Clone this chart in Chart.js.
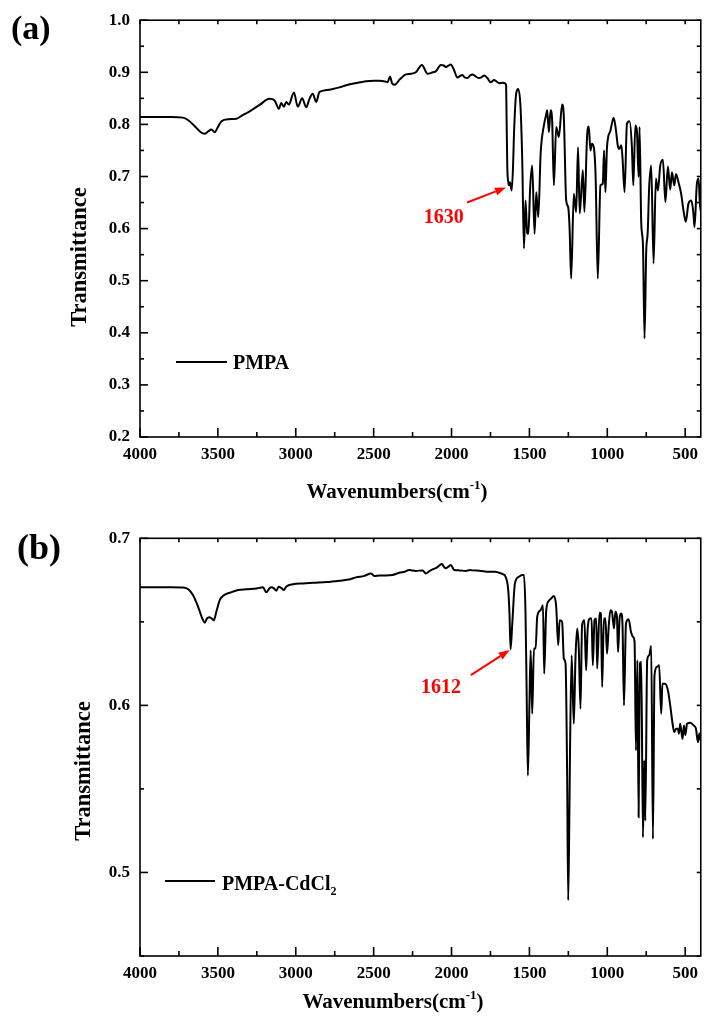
<!DOCTYPE html>
<html>
<head>
<meta charset="utf-8">
<script src="https://cdn.jsdelivr.net/npm/chart.js@4.4.1/dist/chart.umd.min.js"></script>
<style>
  html, body { margin: 0; padding: 0; background: #fff; }
  #wrap { position: relative; width: 705px; height: 1021px; }
  .panel { position: absolute; left: 0; width: 705px; }
  #pa { top: 0; height: 510px; }
  #pb { top: 510px; height: 511px; }
</style>
</head>
<body>
<div id="wrap">
  <div class="panel" id="pa"><canvas id="chartA"></canvas></div>
  <div class="panel" id="pb"><canvas id="chartB"></canvas></div>
</div>
<script>
const SERIF = "'Liberation Serif', 'Times New Roman', serif";

// axis ticks
const xTickLabels = [4000, 3500, 3000, 2500, 2000, 1500, 1000, 500];
const yTicksA = [0.2, 0.3, 0.4, 0.5, 0.6, 0.7, 0.8, 0.9, 1.0];
const yTicksB = [0.5, 0.6, 0.7];

// (a) PMPA
const wnA = [4000, 3800, 3725, 3690, 3650, 3610, 3584, 3560, 3541, 3520, 3500, 3477, 3430, 3381, 3340, 3296,
  3230, 3168, 3136, 3108, 3094, 3076, 3061, 3045, 3012, 2987, 2959, 2933, 2912, 2891, 2869, 2848,
  2800, 2762, 2720, 2677, 2620, 2549, 2500, 2464, 2420, 2410, 2395, 2382, 2367, 2330, 2293, 2260,
  2229, 2190, 2154, 2120, 2100, 2069, 2050, 2037, 2005, 1985, 1962, 1945, 1930, 1915, 1898, 1880,
  1866, 1845, 1823, 1805, 1791, 1770, 1749, 1727, 1710, 1695, 1670, 1657, 1650, 1646, 1642, 1636,
  1631, 1625, 1618, 1614, 1605, 1599, 1585, 1572, 1557, 1546, 1535, 1525, 1514, 1507, 1495, 1482,
  1467, 1456, 1443, 1428, 1407, 1395, 1386, 1375, 1364, 1354, 1343, 1328, 1311, 1290, 1279, 1264,
  1251, 1242, 1232, 1215, 1200, 1188, 1177, 1157, 1147, 1130, 1119, 1108, 1098, 1085, 1075, 1061,
  1044, 1029, 1021, 1012, 1002, 980, 959, 944, 933, 923, 910, 902, 889, 874, 857, 842,
  833, 820, 810, 799, 793, 782, 771, 761, 750, 741, 731, 718, 703, 688, 675, 660,
  643, 627, 611, 596, 585, 570, 559, 543, 526, 511, 496, 479, 461, 448, 440, 425,
  414, 403, 400];
const trA = [0.814, 0.814, 0.813, 0.808, 0.797, 0.785, 0.782, 0.787, 0.790, 0.785, 0.795, 0.806, 0.810, 0.811, 0.818, 0.825,
  0.838, 0.849, 0.846, 0.830, 0.841, 0.834, 0.843, 0.838, 0.861, 0.834, 0.850, 0.833, 0.849, 0.859, 0.843, 0.862,
  0.866, 0.868, 0.871, 0.875, 0.879, 0.883, 0.884, 0.884, 0.882, 0.881, 0.892, 0.879, 0.876, 0.887, 0.896, 0.897,
  0.900, 0.914, 0.897, 0.900, 0.902, 0.914, 0.913, 0.910, 0.915, 0.905, 0.890, 0.893, 0.895, 0.890, 0.889, 0.894,
  0.896, 0.892, 0.889, 0.891, 0.894, 0.889, 0.881, 0.885, 0.882, 0.879, 0.880, 0.879, 0.876, 0.800, 0.718, 0.690,
  0.683, 0.689, 0.678, 0.673, 0.720, 0.782, 0.859, 0.868, 0.833, 0.731, 0.562, 0.654, 0.591, 0.590, 0.680, 0.721,
  0.590, 0.670, 0.622, 0.744, 0.798, 0.815, 0.827, 0.785, 0.827, 0.807, 0.683, 0.795, 0.776, 0.838, 0.814, 0.654,
  0.641, 0.600, 0.504, 0.667, 0.632, 0.756, 0.629, 0.712, 0.632, 0.776, 0.796, 0.750, 0.763, 0.753, 0.700, 0.504,
  0.683, 0.686, 0.750, 0.670, 0.756, 0.788, 0.813, 0.788, 0.760, 0.753, 0.760, 0.734, 0.670, 0.801, 0.806, 0.756,
  0.683, 0.798, 0.788, 0.699, 0.795, 0.610, 0.568, 0.389, 0.558, 0.590, 0.680, 0.721, 0.533, 0.696, 0.673, 0.721,
  0.732, 0.651, 0.719, 0.675, 0.708, 0.683, 0.705, 0.689, 0.667, 0.635, 0.613, 0.648, 0.654, 0.632, 0.603, 0.686,
  0.696, 0.635, 0.640];

// (b) PMPA-CdCl2
const wnB = [4000, 3800, 3723, 3690, 3660, 3627, 3600, 3584, 3570, 3556, 3540, 3526, 3510, 3488, 3460, 3424,
  3370, 3317, 3250, 3211, 3189, 3170, 3157, 3140, 3125, 3110, 3090, 3078, 3060, 3018, 2950, 2891,
  2800, 2720, 2650, 2613, 2560, 2517, 2496, 2460, 2421, 2380, 2336, 2300, 2272, 2230, 2186, 2165,
  2140, 2122, 2095, 2062, 2045, 2037, 2020, 2005, 1983, 1950, 1909, 1880, 1866, 1820, 1759, 1720,
  1695, 1670, 1653, 1636, 1628, 1621, 1610, 1593, 1567, 1545, 1535, 1525, 1518, 1510, 1500, 1492,
  1482, 1471, 1460, 1450, 1428, 1413, 1405, 1392, 1375, 1360, 1343, 1328, 1315, 1306, 1290, 1279,
  1268, 1258, 1251, 1244, 1240, 1229, 1215, 1204, 1193, 1183, 1172, 1162, 1147, 1136, 1127, 1112,
  1101, 1093, 1082, 1071, 1065, 1050, 1041, 1033, 1022, 1012, 1002, 991, 980, 970, 957, 948,
  938, 931, 920, 910, 902, 893, 880, 863, 848, 835, 825, 816, 807, 799, 791, 782,
  771, 763, 756, 744, 731, 718, 707, 697, 682, 667, 654, 646, 629, 611, 596, 581,
  570, 558, 547, 540, 532, 517, 508, 499, 488, 467, 446, 431, 418, 409, 400];
const trB = [0.6707, 0.6707, 0.6705, 0.6695, 0.666, 0.659, 0.652, 0.6495, 0.652, 0.6527, 0.652, 0.651, 0.656, 0.663, 0.666, 0.6674,
  0.669, 0.6695, 0.670, 0.6707, 0.6677, 0.6700, 0.6707, 0.6700, 0.6686, 0.6710, 0.6700, 0.6690, 0.6712, 0.6725, 0.6730, 0.6734,
  0.6738, 0.6746, 0.6755, 0.6766, 0.6775, 0.6790, 0.6774, 0.6778, 0.6778, 0.6780, 0.6794, 0.6800, 0.6810, 0.6805, 0.6808, 0.6790,
  0.6805, 0.6814, 0.6825, 0.6846, 0.6825, 0.6820, 0.6830, 0.6840, 0.6810, 0.6808, 0.6805, 0.6810, 0.6808, 0.6806, 0.6800, 0.6800,
  0.6794, 0.6785, 0.677, 0.669, 0.655, 0.6335, 0.649, 0.673, 0.677, 0.678, 0.678, 0.655, 0.610, 0.558, 0.600, 0.633,
  0.595, 0.634, 0.634, 0.653, 0.657, 0.660, 0.619, 0.657, 0.6626, 0.664, 0.6655, 0.659, 0.636, 0.651, 0.650, 0.628,
  0.625, 0.560, 0.4834, 0.530, 0.567, 0.630, 0.589, 0.629, 0.646, 0.634, 0.598, 0.648, 0.651, 0.621, 0.644, 0.652,
  0.652, 0.624, 0.651, 0.652, 0.622, 0.6555, 0.655, 0.611, 0.652, 0.652, 0.631, 0.647, 0.657, 0.656, 0.646, 0.656,
  0.653, 0.632, 0.653, 0.655, 0.647, 0.600, 0.649, 0.6515, 0.644, 0.641, 0.638, 0.573, 0.627, 0.533, 0.625, 0.626,
  0.521, 0.567, 0.531, 0.627, 0.630, 0.6355, 0.520, 0.618, 0.623, 0.624, 0.595, 0.613, 0.613, 0.609, 0.600, 0.589,
  0.584, 0.586, 0.586, 0.583, 0.589, 0.580, 0.588, 0.5822, 0.589, 0.5896, 0.588, 0.586, 0.578, 0.5832, 0.579];

function richText(ctx, parts, x, y, align) {
  let total = 0;
  parts.forEach(p => {
    ctx.font = `bold ${p.size}px ${SERIF}`;
    p.w = ctx.measureText(p.t).width;
    total += p.w;
  });
  let cx = align === 'center' ? x - total / 2 : x;
  ctx.textAlign = 'left';
  ctx.textBaseline = 'alphabetic';
  parts.forEach(p => {
    ctx.font = `bold ${p.size}px ${SERIF}`;
    ctx.fillText(p.t, cx, y + (p.dy || 0));
    cx += p.w;
  });
}

function seg(ctx, x1, y1, x2, y2) {
  ctx.beginPath(); ctx.moveTo(x1, y1); ctx.lineTo(x2, y2); ctx.stroke();
}

const panelDecor = {
  id: 'panelDecor',
  afterDraw(chart, args, o) {
    const { ctx, chartArea: a, scales: { x, y } } = chart;
    ctx.save();
    ctx.strokeStyle = '#000';
    ctx.fillStyle = '#000';
    ctx.lineWidth = 1.6;
    ctx.strokeRect(a.left, a.top, a.right - a.left, a.bottom - a.top);

    // inward ticks, major + minor, mirrored on top/right
    for (let v = 500; v <= 4000; v += 250) {
      const px = x.getPixelForValue(v);
      const major = v % 500 === 0;
      seg(ctx, px, a.bottom, px, a.bottom - (major ? 9 : 5));
      seg(ctx, px, a.top, px, a.top + 4);
    }
    for (let i = 0; ; i++) {
      const v = o.yMin + i * 0.05;
      if (v > o.yMax + 1e-9) break;
      const py = y.getPixelForValue(v);
      const major = Math.abs(v * 10 - Math.round(v * 10)) < 1e-6;
      seg(ctx, a.left, py, a.left + (major ? 8 : 4), py);
      seg(ctx, a.right, py, a.right - 4, py);
    }

    // axis titles
    ctx.save();
    ctx.translate(o.yTitle[0], o.yTitle[1]);
    ctx.rotate(-Math.PI / 2);
    ctx.font = `bold 22.5px ${SERIF}`;
    ctx.textAlign = 'center';
    ctx.textBaseline = 'alphabetic';
    ctx.fillText('Transmittance', 0, 0);
    ctx.restore();
    richText(ctx, [
      { t: 'Wavenumbers(cm', size: 21 },
      { t: '-1', size: 13, dy: -9 },
      { t: ')', size: 21 }
    ], o.xTitle[0], o.xTitle[1], 'center');

    // panel letter
    ctx.font = `bold ${o.letterSize}px ${SERIF}`;
    ctx.textAlign = 'left';
    ctx.fillText(o.letter, o.letterPos[0], o.letterPos[1]);

    // legend
    ctx.lineWidth = 2;
    seg(ctx, o.legendLine[0], o.legendLine[2], o.legendLine[1], o.legendLine[2]);
    richText(ctx, o.legendParts, o.legendText[0], o.legendText[1], 'left');

    // red arrow annotation
    ctx.strokeStyle = '#ff0000';
    ctx.fillStyle = '#ff0000';
    const tx = x.getPixelForValue(o.note.tail[0]), ty = y.getPixelForValue(o.note.tail[1]);
    const hx = x.getPixelForValue(o.note.head[0]), hy = y.getPixelForValue(o.note.head[1]);
    const ang = Math.atan2(hy - ty, hx - tx);
    const hl = 11, hw = 4;
    const bx = hx - hl * Math.cos(ang), by = hy - hl * Math.sin(ang);
    ctx.lineWidth = 2;
    seg(ctx, tx, ty, bx, by);
    ctx.beginPath();
    ctx.moveTo(hx, hy);
    ctx.lineTo(bx + hw * Math.sin(ang), by - hw * Math.cos(ang));
    ctx.lineTo(bx - hw * Math.sin(ang), by + hw * Math.cos(ang));
    ctx.closePath();
    ctx.fill();
    ctx.font = `bold 20px ${SERIF}`;
    ctx.textAlign = 'center';
    ctx.textBaseline = 'alphabetic';
    ctx.fillText(o.note.text, x.getPixelForValue(o.note.at[0]), y.getPixelForValue(o.note.at[1]));
    ctx.restore();
  }
};

function makePanel(id, wn, tr, yMin, yMax, yTicks, xAxisH, pad, deco) {
  const tickFont = { family: SERIF, size: 17, weight: 'bold' };
  return new Chart(document.getElementById(id), {
    type: 'line',
    data: {
      datasets: [{
        data: wn.map((w, i) => ({ x: w, y: tr[i] })),
        borderColor: '#000',
        borderWidth: 2,
        pointRadius: 0,
        cubicInterpolationMode: 'monotone',
        fill: false
      }]
    },
    options: {
      responsive: true,
      maintainAspectRatio: false,
      animation: false,
      layout: { padding: pad },
      plugins: { legend: { display: false }, tooltip: { enabled: false }, panelDecor: deco },
      scales: {
        x: {
          type: 'linear', reverse: true, min: 400, max: 4000,
          afterBuildTicks: s => { s.ticks = xTickLabels.map(v => ({ value: v })); },
          afterFit: s => { s.height = xAxisH; },
          grid: { display: false, drawTicks: false },
          border: { display: false },
          ticks: { font: tickFont, color: '#000', padding: 7, maxRotation: 0, autoSkip: false,
                   callback: v => String(v) }
        },
        y: {
          type: 'linear', min: yMin, max: yMax,
          afterBuildTicks: s => { s.ticks = yTicks.map(v => ({ value: v })); },
          afterFit: s => { s.width = 140; },
          grid: { display: false, drawTicks: false },
          border: { display: false },
          ticks: { font: tickFont, color: '#000', padding: 10, callback: v => Number(v).toFixed(1) }
        }
      }
    },
    plugins: [panelDecor]
  });
}

makePanel('chartA', wnA, trA, 0.2, 1.0, yTicksA, 73, { top: 19.5, right: 2.5, left: 0, bottom: 0 }, {
  yMin: 0.2, yMax: 1.0,
  yTitle: [86, 257], xTitle: [397, 498],
  letter: '(a)', letterSize: 34, letterPos: [11, 39],
  legendLine: [176, 227, 362], legendText: [233, 369],
  legendParts: [{ t: 'PMPA', size: 20 }],
  note: { text: '1630', at: [2050, 0.611], tail: [1900, 0.650], head: [1650, 0.679] }
});

makePanel('chartB', wnB, trB, 0.45, 0.7, yTicksB, 65, { top: 28.3, right: 2.5, left: 0, bottom: 0 }, {
  yMin: 0.45, yMax: 0.7,
  yTitle: [90, 261], xTitle: [393, 498],
  letter: '(b)', letterSize: 36, letterPos: [17, 49],
  legendLine: [165, 215, 371], legendText: [222, 380],
  legendParts: [{ t: 'PMPA-CdCl', size: 20 }, { t: '2', size: 12, dy: 5 }],
  note: { text: '1612', at: [2067, 0.6077], tail: [1876, 0.6181], head: [1627, 0.6331] }
});
</script>
</body>
</html>
